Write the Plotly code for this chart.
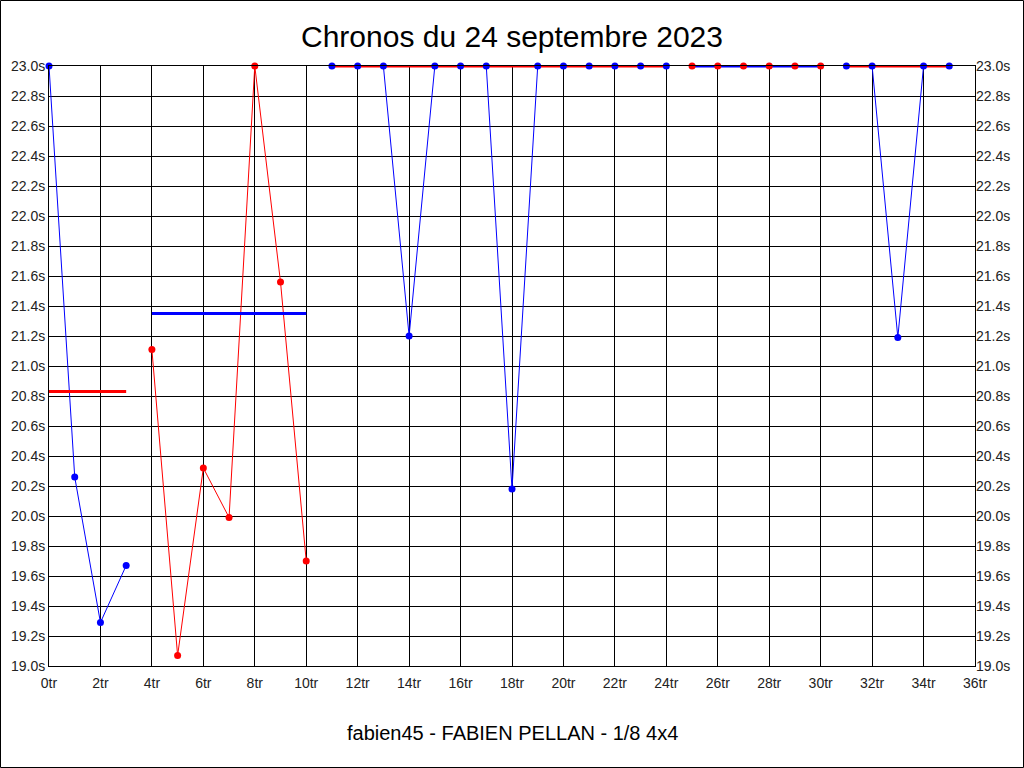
import plotly.graph_objects as go

# ---- data ----
laps = list(range(36))
times = [23.0, 20.26, 19.29, 19.67,
         21.11, 19.07, 20.32, 19.99, 23.0, 21.56, 19.70,
         23.0, 23.0, 23.0, 21.20, 23.0, 23.0, 23.0, 20.18, 23.0, 23.0, 23.0, 23.0, 23.0, 23.0,
         23.0, 23.0, 23.0, 23.0, 23.0, 23.0,
         23.0, 23.0, 21.19, 23.0, 23.0]
seg_start = [0, 4, 11, 25, 31]
seg_end = [3, 10, 24, 30, 35]
seg_colors = ["#0000ff", "#ff0000", "#0000ff", "#ff0000", "#0000ff"]
avg_values = [20.83, 21.35, 23.0, 23.0, 23.0]
avg_colors = ["#ff0000", "#0000ff", "#ff0000", "#0000ff", "#ff0000"]
title = "Chronos du 24 septembre 2023"
subtitle = "fabien45 - FABIEN PELLAN - 1/8 4x4"

W, H = 1024, 768
L, R, T, B = 49, 49, 66, 102
pw, ph = W - L - R, H - T - B

fig = go.Figure()

# data lines
for s, e, c in zip(seg_start, seg_end, seg_colors):
    fig.add_trace(go.Scatter(x=laps[s:e + 1], y=times[s:e + 1], mode="lines",
                             line=dict(color=c, width=1), showlegend=False,
                             hoverinfo="skip", cliponaxis=False))
# average lines
for s, e, v, c in zip(seg_start, seg_end, avg_values, avg_colors):
    fig.add_trace(go.Scatter(x=[laps[s], laps[e]], y=[v, v], mode="lines",
                             line=dict(color=c, width=3), showlegend=False,
                             hoverinfo="skip", cliponaxis=False))
# markers
for s, e, c in zip(seg_start, seg_end, seg_colors):
    fig.add_trace(go.Scatter(x=laps[s:e + 1], y=times[s:e + 1], mode="markers",
                             marker=dict(color=c, size=7, line=dict(width=0)),
                             showlegend=False, cliponaxis=False))
# right axis helper
fig.add_trace(go.Scatter(x=[0], y=[23.0], yaxis="y2", mode="markers",
                         marker=dict(opacity=0), showlegend=False, hoverinfo="skip"))

tickfont = dict(family="Liberation Sans, Arial, sans-serif", size=14, color="#222222")
yticks = [round(19.0 + 0.2 * i, 1) for i in range(21)]
xticks = list(range(0, 37, 2))

fig.update_layout(
    width=W, height=H,
    margin=dict(l=L, r=R, t=T, b=B, autoexpand=False),
    paper_bgcolor="white", plot_bgcolor="white",
    font=dict(family="Liberation Sans, Arial, sans-serif", color="black"),
    title=dict(text=title, x=0.5, xanchor="center", y=1 - 36 / H, yanchor="middle",
               font=dict(size=30, color="black")),
    xaxis=dict(range=[0, 36], tickvals=xticks, ticktext=[f"{v}tr" for v in xticks],
               showgrid=True, gridcolor="black", gridwidth=1, zeroline=False,
               showline=True, linecolor="black", linewidth=1, mirror=True,
               ticks="", tickfont=tickfont, automargin=False, ticklabelstandoff=4),
    yaxis=dict(range=[19.0, 23.0], tickvals=yticks, ticktext=[f"{v:.1f}s" for v in yticks],
               showgrid=True, gridcolor="black", gridwidth=1, zeroline=False,
               showline=True, linecolor="black", linewidth=1, mirror=True,
               ticks="", tickfont=tickfont, automargin=False),
    yaxis2=dict(range=[19.0, 23.0], tickvals=yticks, ticktext=[f"{v:.1f}s" for v in yticks],
                overlaying="y", side="right", showgrid=False, zeroline=False,
                ticks="", tickfont=tickfont, automargin=False),
    annotations=[dict(text=subtitle, xref="paper", yref="paper", x=0.5,
                      y=-(733 - 666) / ph, xanchor="center", yanchor="middle",
                      showarrow=False, font=dict(size=20, color="black"))],
    shapes=[dict(type="rect", xref="paper", yref="paper",
                 x0=(-L + 0.5) / pw, x1=(pw + R - 0.5) / pw,
                 y0=(-B + 0.5) / ph, y1=(ph + T - 0.5) / ph,
                 line=dict(color="black", width=1), fillcolor="rgba(0,0,0,0)", layer="below")],
)

fig.write_html("out.html", config={"displayModeBar": False},
               post_script="document.body.style.margin='0';document.body.style.overflow='hidden';")
